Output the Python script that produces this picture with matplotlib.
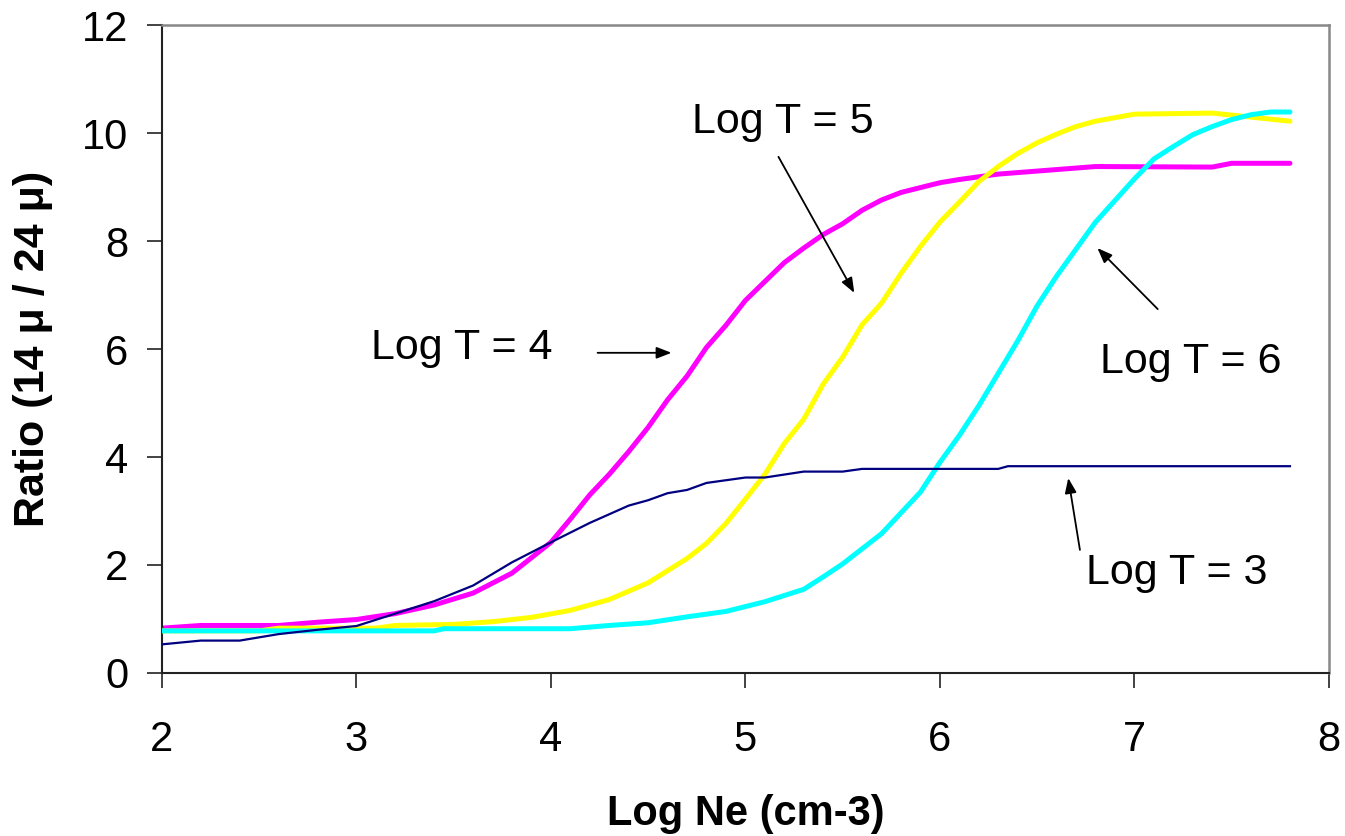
import matplotlib
matplotlib.use("Agg")
import matplotlib.pyplot as plt

plt.rcParams['font.family'] = ['Liberation Sans', 'DejaVu Sans']

# Log T = 3 (navy)
x_t3 = [2.0, 2.2, 2.4, 2.6, 2.8, 3.0, 3.2, 3.4, 3.6, 3.8, 4.0, 4.2, 4.4, 4.5, 4.6, 4.7,
        4.8, 5.0, 5.1, 5.3, 5.5, 5.6, 6.3, 6.35, 7.8]
y_t3 = [0.53, 0.6, 0.6, 0.72, 0.8, 0.87, 1.1, 1.33, 1.62, 2.05, 2.42, 2.78, 3.1, 3.2, 3.33, 3.39,
        3.52, 3.62, 3.62, 3.73, 3.73, 3.78, 3.78, 3.83, 3.83]

# Log T = 4 (magenta)
x_t4 = [2.0, 2.2, 2.6, 2.8, 3.0, 3.2, 3.4, 3.6, 3.8, 4.0, 4.1, 4.2, 4.3, 4.4, 4.5, 4.6, 4.7,
        4.8, 4.9, 5.0, 5.1, 5.2, 5.3, 5.4, 5.5, 5.6, 5.7, 5.8, 5.9, 6.0, 6.1, 6.3, 6.8, 7.4,
        7.5, 7.8]
y_t4 = [0.83, 0.88, 0.88, 0.94, 0.99, 1.1, 1.26, 1.48, 1.85, 2.42, 2.85, 3.3, 3.68, 4.1, 4.55,
        5.06, 5.5, 6.03, 6.44, 6.9, 7.25, 7.6, 7.87, 8.12, 8.32, 8.57, 8.76, 8.9, 8.99, 9.08,
        9.14, 9.24, 9.38, 9.37, 9.44, 9.44]

# Log T = 5 (yellow)
x_t5 = [2.0, 2.5, 2.6, 3.1, 3.2, 3.5, 3.7, 3.9, 4.1, 4.3, 4.5, 4.7, 4.8, 4.9, 5.0, 5.1, 5.2,
        5.3, 5.4, 5.5, 5.6, 5.7, 5.8, 5.9, 6.0, 6.1, 6.2, 6.3, 6.4, 6.5, 6.6, 6.7, 6.8, 7.0,
        7.4, 7.8]
y_t5 = [0.78, 0.78, 0.83, 0.83, 0.88, 0.9, 0.95, 1.03, 1.16, 1.36, 1.67, 2.12, 2.4, 2.77, 3.22,
        3.68, 4.25, 4.7, 5.35, 5.85, 6.45, 6.85, 7.4, 7.9, 8.35, 8.72, 9.1, 9.38, 9.62, 9.82,
        9.98, 10.12, 10.22, 10.35, 10.37, 10.22]

# Log T = 6 (cyan)
x_t6 = [2.0, 3.4, 3.45, 4.1, 4.3, 4.5, 4.7, 4.9, 5.1, 5.3, 5.4, 5.5, 5.7, 5.9, 6.0, 6.1, 6.2,
        6.3, 6.4, 6.5, 6.6, 6.7, 6.8, 6.9, 7.0, 7.1, 7.2, 7.3, 7.4, 7.5, 7.6, 7.7, 7.8]
y_t6 = [0.78, 0.78, 0.82, 0.82, 0.88, 0.93, 1.04, 1.14, 1.32, 1.55, 1.78, 2.02, 2.58, 3.35, 3.9,
        4.4, 4.95, 5.55, 6.15, 6.8, 7.35, 7.85, 8.35, 8.75, 9.15, 9.52, 9.75, 9.97, 10.12,
        10.25, 10.34, 10.39, 10.39]

fig = plt.figure(figsize=(13.45, 8.36), dpi=100)
ax = fig.add_axes([0.1204, 0.195, 0.8676, 0.775])

ax.plot(x_t4, y_t4, color='#FF00FF', lw=3.6, solid_capstyle='round', zorder=2)
ax.plot(x_t5, y_t5, color='#FFFF00', lw=3.6, solid_capstyle='round', zorder=3)
ax.plot(x_t6, y_t6, color='#00FFFF', lw=3.6, solid_capstyle='round', zorder=4)
ax.plot(x_t3, y_t3, color='#000080', lw=1.6, zorder=5)

ax.set_xlim(2, 8)
ax.set_ylim(0, 12)
ax.set_xticks(range(2, 9))
ax.set_yticks(range(0, 13, 2))

for s in ['left', 'bottom']:
    ax.spines[s].set_color('#222222')
    ax.spines[s].set_linewidth(1.5)
for s in ['top', 'right']:
    ax.spines[s].set_color('#888888')
    ax.spines[s].set_linewidth(1.8)

ax.tick_params(axis='both', direction='out', length=11, width=1.2, color='#222222',
               labelsize=30)
ax.tick_params(axis='y', pad=13)
ax.tick_params(axis='x', pad=23)

ax.set_xlabel('Log Ne (cm-3)', fontsize=30, fontweight='bold', labelpad=24)
ax.set_ylabel('Ratio (14 μ / 24 μ)', fontsize=31, fontweight='bold', labelpad=21)

arrow = dict(arrowstyle='-|>,head_length=0.9,head_width=0.35', color='black', lw=1.3,
             shrinkA=0, shrinkB=0)

ax.text(3.54, 6.02, 'Log T = 4', fontsize=31, ha='center', va='center')
ax.annotate('', xy=(4.62, 5.93), xytext=(4.24, 5.93), arrowprops=arrow)

ax.text(5.19, 10.2, 'Log T = 5', fontsize=31, ha='center', va='center')
ax.annotate('', xy=(5.56, 7.04), xytext=(5.17, 9.56), arrowprops=arrow)

ax.text(7.29, 5.76, 'Log T = 6', fontsize=31, ha='center', va='center')
ax.annotate('', xy=(6.81, 7.87), xytext=(7.12, 6.74), arrowprops=arrow)

ax.text(7.22, 1.85, 'Log T = 3', fontsize=31, ha='center', va='center')
ax.annotate('', xy=(6.66, 3.61), xytext=(6.72, 2.28), arrowprops=arrow)

fig.savefig('out.png', dpi=100)
